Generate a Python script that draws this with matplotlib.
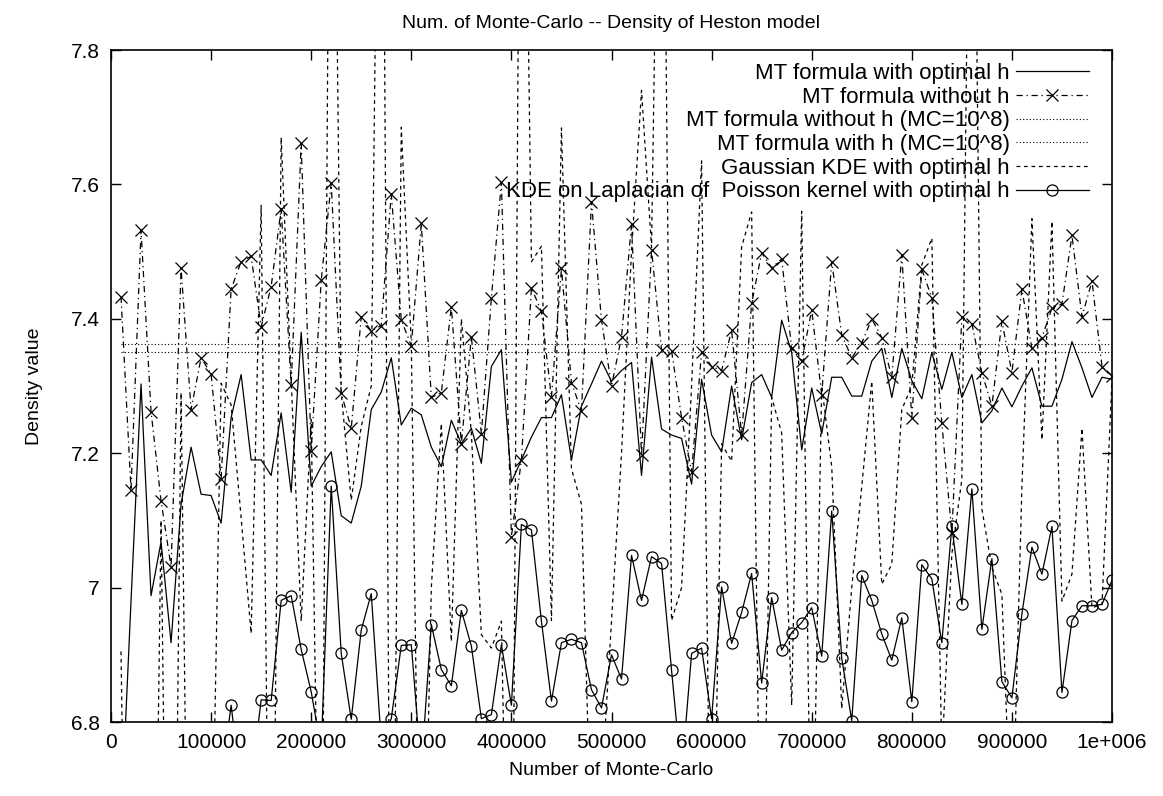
import numpy as np
import matplotlib
matplotlib.use("Agg")
import matplotlib.pyplot as plt

plt.rcParams['font.family'] = ['Liberation Sans', 'DejaVu Sans']

# number of Monte-Carlo samples (10000 ... 1e6)
n_mc = [10000 * k for k in range(1, 101)]

# MT formula with optimal h
mt_opt = [6.65, 6.98, 7.303, 6.988, 7.068, 6.918, 7.124, 7.209, 7.139, 7.137,
          7.096, 7.253, 7.317, 7.190, 7.190, 7.167, 7.260, 7.142, 7.380, 7.151,
          7.180, 7.202, 7.107, 7.096, 7.151, 7.265, 7.291, 7.342, 7.242, 7.267,
          7.257, 7.209, 7.180, 7.249, 7.214, 7.237, 7.185, 7.329, 7.354, 7.157,
          7.190, 7.224, 7.253, 7.253, 7.287, 7.190, 7.270, 7.303, 7.337, 7.307,
          7.323, 7.335, 7.167, 7.343, 7.236, 7.227, 7.222, 7.154, 7.310, 7.227,
          7.202, 7.300, 7.220, 7.305, 7.317, 7.283, 7.398, 7.350, 7.205, 7.297,
          7.229, 7.313, 7.313, 7.285, 7.285, 7.337, 7.356, 7.283, 7.356, 7.308,
          7.281, 7.350, 7.295, 7.350, 7.283, 7.317, 7.245, 7.263, 7.297, 7.269,
          7.300, 7.327, 7.270, 7.270, 7.310, 7.366, 7.327, 7.283, 7.313, 7.310]

# MT formula without h
mt_noh = [7.433, 7.145, 7.532, 7.262, 7.129, 7.031, 7.475, 7.265, 7.342, 7.318,
          7.162, 7.444, 7.485, 7.493, 7.388, 7.448, 7.564, 7.301, 7.661, 7.204,
          7.457, 7.602, 7.289, 7.237, 7.403, 7.382, 7.390, 7.586, 7.398, 7.360,
          7.542, 7.283, 7.290, 7.418, 7.214, 7.373, 7.229, 7.431, 7.603, 7.076,
          7.190, 7.446, 7.411, 7.283, 7.475, 7.305, 7.263, 7.574, 7.398, 7.300,
          7.373, 7.541, 7.197, 7.503, 7.354, 7.352, 7.253, 7.172, 7.351, 7.329,
          7.323, 7.383, 7.227, 7.423, 7.498, 7.476, 7.489, 7.356, 7.337, 7.413,
          7.287, 7.485, 7.376, 7.342, 7.364, 7.400, 7.372, 7.313, 7.495, 7.253,
          7.474, 7.431, 7.245, 7.081, 7.403, 7.393, 7.320, 7.270, 7.396, 7.320,
          7.444, 7.356, 7.372, 7.416, 7.422, 7.524, 7.403, 7.456, 7.329, 7.315]

# reference values with MC=10^8
ref_noh_1e8 = 7.363
ref_h_1e8 = 7.351

# Gaussian KDE with optimal h
gauss_kde = [6.905, 5.9, 6.2, 6.0, 7.10, 5.9, 7.29, 6.1, 6.3, 6.5,
             7.304, 7.272, 7.104, 6.932, 7.569, 6.2, 7.67, 7.31, 6.95, 7.25,
             6.3, 8.6, 7.29, 7.13, 7.24, 7.30, 8.6, 6.2, 7.685, 7.363,
             6.3, 7.0, 7.244, 6.92, 7.40, 7.23, 6.93, 6.91, 6.95, 6.2,
             8.6, 7.485, 7.508, 6.951, 7.684, 7.177, 7.124, 6.6, 6.7, 6.95,
             7.2, 7.5, 7.74, 7.506, 8.5, 6.951, 7.0, 7.3, 7.635, 6.4,
             7.214, 7.188, 7.507, 7.559, 6.4, 7.283, 7.23, 6.825, 7.56, 6.5,
             7.3, 7.18, 6.82, 7.0, 7.15, 7.307, 7.005, 7.035, 7.265, 7.30,
             7.48, 7.52, 6.75, 7.05, 7.161, 8.5, 7.117, 7.03, 6.99, 6.6,
             7.15, 7.549, 7.22, 7.545, 6.98, 7.02, 7.237, 6.97, 6.975, 7.31]

# KDE on Laplacian of Poisson kernel with optimal h
kde_lap = [6.45, 6.5, 6.4, 6.55, 6.45, 6.6, 6.5, 6.4, 6.55, 6.5,
           6.71, 6.825, 6.70, 6.71, 6.833, 6.832, 6.981, 6.988, 6.908, 6.845,
           6.76, 7.151, 6.902, 6.804, 6.937, 6.991, 6.77, 6.805, 6.914, 6.915,
           6.73, 6.945, 6.878, 6.854, 6.966, 6.913, 6.805, 6.811, 6.915, 6.825,
           7.094, 7.086, 6.950, 6.831, 6.918, 6.923, 6.918, 6.848, 6.821, 6.900,
           6.864, 7.048, 6.981, 7.046, 7.036, 6.877, 6.72, 6.902, 6.910, 6.805,
           7.001, 6.917, 6.963, 7.021, 6.858, 6.985, 6.907, 6.933, 6.948, 6.970,
           6.898, 7.114, 6.895, 6.802, 7.018, 6.981, 6.931, 6.892, 6.955, 6.830,
           7.034, 7.013, 6.918, 7.091, 6.975, 7.147, 6.938, 7.043, 6.860, 6.836,
           6.961, 7.060, 7.020, 7.091, 6.844, 6.951, 6.973, 6.973, 6.975, 7.011]

x_ticks = [0, 100000, 200000, 300000, 400000, 500000, 600000, 700000, 800000, 900000, 1000000]
x_labels = ['0', '100000', '200000', '300000', '400000', '500000', '600000',
            '700000', '800000', '900000', '1e+006']
y_ticks = [6.8, 7.0, 7.2, 7.4, 7.6, 7.8]
y_labels = ['6.8', '7', '7.2', '7.4', '7.6', '7.8']

W, H = 1163, 796
fig = plt.figure(figsize=(W / 100, H / 100), dpi=100)
ax = fig.add_axes([111 / W, 1 - 722 / H, 1001 / W, (722 - 50) / H])

lw = 0.9
fs = 14
ax.plot(n_mc, mt_opt, color='black', lw=lw, label='MT formula with optimal h')
ax.plot(n_mc, mt_noh, color='black', lw=lw, ls=(0, (5, 3, 1, 3)), marker='x',
        ms=8, mew=0.9, label='MT formula without h')
ax.plot(n_mc, [ref_noh_1e8] * len(n_mc), color='black', lw=0.8, ls=(0, (1, 2)),
        label='MT formula without h (MC=10^8)')
ax.plot(n_mc, [ref_h_1e8] * len(n_mc), color='black', lw=0.8, ls=(0, (1, 2)),
        label='MT formula with h (MC=10^8)')
ax.plot(n_mc, gauss_kde, color='black', lw=lw, ls=(0, (3, 3)),
        label='Gaussian KDE with optimal h')
ax.plot(n_mc, kde_lap, color='black', lw=lw, marker='o', ms=8, mfc='none',
        mew=0.9, label='KDE on Laplacian of  Poisson kernel with optimal h')

ax.set_xlim(0, 1000000)
ax.set_ylim(6.8, 7.8)
ax.set_xticks(x_ticks)
ax.set_xticklabels(x_labels)
ax.set_yticks(y_ticks)
ax.set_yticklabels(y_labels)
ax.tick_params(direction='in', length=7, width=1, top=True, right=True,
               labelsize=15, pad=8)
for s in ax.spines.values():
    s.set_linewidth(1.2)

ax.set_xlabel('Number of Monte-Carlo', fontsize=fs, labelpad=7)
ax.set_ylabel('Density value', fontsize=fs, labelpad=20)
ax.set_title('Num. of Monte-Carlo -- Density of Heston model', fontsize=fs, pad=16)

leg = ax.legend(loc='upper right', bbox_to_anchor=(1089 / W, 1 - 63 / H),
                bbox_transform=fig.transFigure, frameon=False, markerfirst=False,
                fontsize=16, handlelength=3.3, handletextpad=0.27,
                labelspacing=0.12, borderpad=0, borderaxespad=0)

fig.savefig('out.png', dpi=100)
